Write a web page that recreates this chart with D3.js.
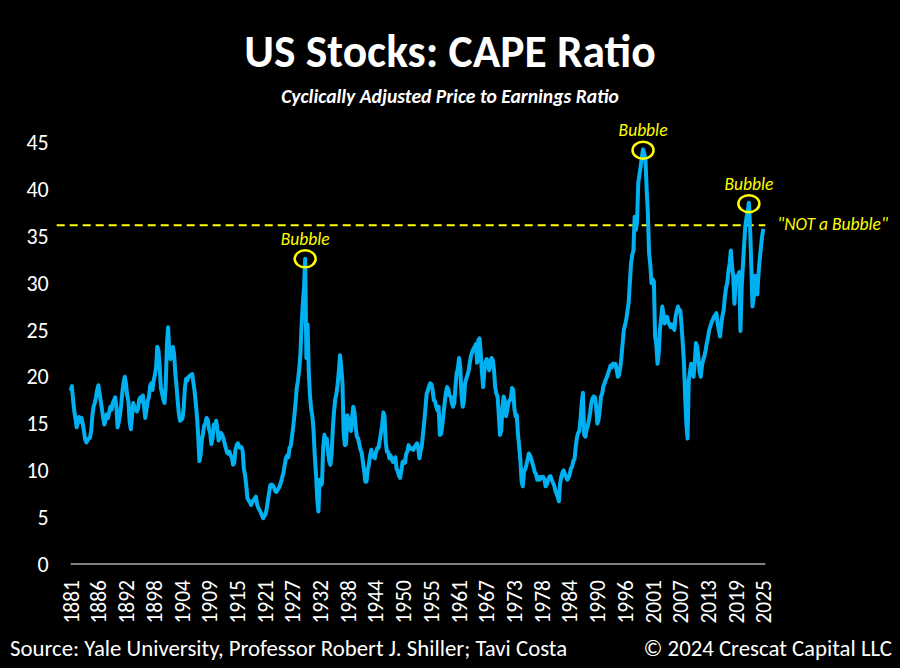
<!DOCTYPE html>
<html><head><meta charset="utf-8">
<script src="https://cdn.jsdelivr.net/npm/d3@7"></script>
<style>body{margin:0;background:#000}svg{display:block}</style>
</head><body><svg id="c" width="900" height="668"></svg>
<script>
// ---------- DATA ----------
const startYear = 1881;
const stepYears = 0.25; // quarterly readings
const capeValues = [
18.5,19.0,17.5,16.3, 15.5,14.6,15.2,15.7, 15.2,15.6,15.0,14.2, 13.3,13.0,13.2,13.4, 13.5,14.2,15.8,16.8,
17.2,17.8,18.6,19.1, 18.2,17.4,16.5,15.6, 14.9,15.4,16.0,15.6, 16.2,16.8,16.5,17.2, 17.5,17.8,16.8,14.6,
15.2,16.0,17.0,18.4, 19.4,20.0,19.2,18.0, 17.4,15.2,14.4,15.8, 17.2,16.8,16.6,16.3, 16.6,17.6,17.8,17.4,
18.0,16.8,15.6,16.5, 17.4,17.8,19.0,19.3, 18.6,19.6,20.2,21.0, 23.2,22.8,21.0,18.8, 18.2,17.6,17.2,19.0,
23.4,25.3,22.5,21.9, 22.6,23.2,22.4,20.4, 19.0,17.4,16.0,15.3, 15.4,15.6,16.8,18.8, 19.8,19.6,20.0,20.1,
20.2,20.3,19.4,18.5, 17.2,15.8,13.8,11.0, 11.6,13.2,13.9,14.8, 15.0,15.6,15.4,14.4, 14.0,12.8,13.4,14.9,
14.6,15.3,14.4,13.2, 13.6,14.0,13.8,13.4, 12.9,12.4,11.9,11.8, 12.0,11.6,11.4,10.6, 10.8,12.2,12.7,12.9,
12.6,12.4,12.5,12.1, 10.2,9.5,8.4,7.0, 6.8,6.6,6.3,6.6, 6.8,7.0,7.2,6.4, 6.0,5.8,5.5,5.2,
4.9,5.1,5.3,5.9, 6.8,7.6,8.4,8.5, 8.4,8.2,7.8,7.7, 7.9,8.1,8.4,8.8, 9.3,9.8,10.6,11.3,
11.6,11.4,12.4,12.6, 13.6,14.6,15.8,17.2, 18.8,19.6,20.8,22.3, 25.5,27.7,29.5,32.6, 22.0,25.6,20.5,18.0,
16.5,15.8,14.2,11.5, 9.6,7.0,5.6,9.0, 8.4,8.6,12.5,13.8, 13.2,13.4,12.0,11.0, 10.6,11.8,14.5,16.3,
17.6,18.2,19.2,20.6, 22.3,21.0,19.4,14.0, 12.7,12.8,15.9,15.5, 15.2,14.2,15.6,16.8, 16.2,14.6,13.6,13.4,
12.8,12.2,11.9,10.9, 10.0,8.8,8.8,10.0, 10.6,11.6,12.2,11.5, 11.4,11.3,12.0,12.4, 12.4,13.2,14.0,14.8,
16.2,15.8,13.0,12.0, 12.0,11.3,11.6,11.2, 10.9,11.2,11.4,10.2, 9.9,9.4,9.2,10.0, 10.9,11.0,10.8,11.8,
12.0,12.7,12.3,12.4, 12.3,12.2,12.5,12.7, 12.9,12.4,11.3,12.1, 12.6,13.9,15.2,16.6, 18.2,18.5,19.0,19.3,
19.2,18.6,17.5,17.4, 16.8,16.4,16.8,13.8, 13.9,14.8,16.0,17.2, 18.3,18.9,18.7,18.0, 17.9,17.2,16.8,17.2,
19.0,20.4,20.9,22.0, 21.0,18.0,16.8,17.4, 19.3,19.8,20.2,20.7, 21.6,22.3,22.7,23.0, 23.2,23.5,21.5,23.9,
24.1,22.5,20.5,18.9, 20.6,21.6,21.9,21.5, 20.7,21.3,22.0,21.8, 20.8,18.9,18.2,17.9, 16.0,13.8,14.2,16.5,
17.9,17.5,15.8,16.4, 17.2,17.5,17.6,18.8, 18.6,16.6,15.8,15.9, 13.8,12.5,11.0,8.8, 8.3,10.0,10.1,10.6,
11.2,11.8,11.6,11.2, 10.8,10.3,9.8,9.6, 9.0,9.3,9.0,9.3, 9.2,9.3,9.0,8.3, 8.5,9.0,9.3,9.4,
9.0,8.7,8.4,7.9, 7.5,7.2,6.7,8.6, 9.3,9.8,10.0,9.6, 9.3,9.0,9.2,9.6, 10.2,10.4,11.0,11.2,
12.5,13.5,14.0,14.2, 15.5,17.2,18.3,13.8, 13.6,14.4,14.7,15.4, 16.2,17.2,17.7,17.9, 17.8,16.8,15.0,15.4,
16.5,17.9,18.2,19.0, 19.3,19.7,20.0,20.4, 20.8,21.2,21.0,21.4, 21.4,21.4,20.8,20.0, 20.2,21.0,22.1,23.6,
25.0,25.5,26.1,27.0, 27.9,30.0,32.1,33.0, 33.5,37.1,35.7,36.5, 40.7,41.6,42.5,43.5, 44.3,43.8,43.2,40.0,
37.5,33.2,32.0,30.0, 30.4,30.2,24.3,23.5, 21.4,22.5,25.0,26.2, 27.5,26.6,25.7,26.0, 26.4,25.8,25.6,25.3,
25.6,25.4,25.0,26.4, 27.0,27.5,27.1,27.1, 25.5,23.6,21.5,17.9, 15.0,13.4,19.6,20.5, 21.4,21.0,20.0,21.5,
23.6,23.2,22.1,20.5, 20.0,21.2,21.8,22.2, 22.8,23.6,24.2,25.0, 25.4,25.8,26.1,26.4, 26.6,26.8,25.7,25.0,
24.3,25.6,26.5,27.1, 28.5,29.5,30.0,31.3, 32.1,33.5,31.8,30.7, 27.8,30.3,30.8,30.6, 31.2,24.9,29.5,31.8,
34.0,36.0,37.0,37.6, 38.6,36.0,32.0,27.5, 28.5,30.8,29.5,28.8, 31.0,32.5,33.8,35.0, 35.8
];
const xTickLabels = ["1881","1886","1892","1898","1904","1909","1915","1921","1927","1932","1938","1944","1950",
  "1955","1961","1967","1973","1978","1984","1990","1996","2001","2007","2013","2019","2025"];
const yTickValues = [0,5,10,15,20,25,30,35,40,45];
const notBubbleLevel = 36.2;
const bubbleYears = [1929.75, 2000.0, 2022.0];
const bubbleValues = [32.6, 44.2, 38.5];
const titleText = "US Stocks: CAPE Ratio";
const subtitleText = "Cyclically Adjusted Price to Earnings Ratio";
const sourceText = "Source: Yale University, Professor Robert J. Shiller; Tavi Costa";
const copyrightText = "\u00A9 2024 Crescat Capital LLC";

// ---------- CHART ----------
const font = "Calibri, Carlito, Lato, 'Open Sans', sans-serif";
const blue = "#00b0f0", yellow = "#ffff00";
const svg = d3.select("#c");
svg.append("rect").attr("width",900).attr("height",668).attr("fill","#000");

const endYear = startYear + (xTickLabels.length - 1) * 5.76;
const x = d3.scaleLinear().domain([startYear, endYear]).range([70.7, 763.3]);
const y = d3.scaleLinear().domain([0, 45]).range([564, 142.8]);

const data = capeValues.map((v, i) => ({t: startYear + i * stepYears, v}));

// title
svg.append("text").attr("x",450).attr("y",67).attr("text-anchor","middle")
  .attr("fill","#fff").style("font-family",font).style("font-weight","bold").style("font-size","45.5px")
  .text(titleText);
svg.append("text").attr("x",450).attr("y",103).attr("text-anchor","middle")
  .attr("fill","#fff").style("font-family",font).style("font-weight","bold").style("font-style","italic")
  .style("font-size","19.6px").text(subtitleText);

// y axis
const yAxis = svg.append("g").attr("transform",`translate(${x(startYear)},0)`)
  .call(d3.axisLeft(y).tickValues(yTickValues).tickSize(0).tickPadding(22));
yAxis.select(".domain").remove();
yAxis.selectAll("text").attr("fill","#fff").style("font-family",font).style("font-size","22px");

// x axis
const tickPos = xTickLabels.map((d,i) => startYear + i * (endYear - startYear) / (xTickLabels.length - 1));
const xAxis = svg.append("g").attr("transform",`translate(0,${y(0)})`)
  .call(d3.axisBottom(x).tickValues(tickPos).tickFormat((d,i)=>xTickLabels[i]).tickSize(0));
xAxis.select(".domain").attr("stroke","#7f7f7f").attr("stroke-width",2.2)
  .attr("d",`M${x(startYear)},0H${x(endYear)+2}`);
xAxis.selectAll("text").attr("fill","#fff").style("font-family",font).style("font-size","21.5px")
  .attr("transform","rotate(-90)").attr("x",-16).attr("y",0).attr("dy","0.35em").style("text-anchor","end");

// not-a-bubble line
svg.append("line").attr("x1",x(startYear)-14).attr("x2",x(endYear)+2)
  .attr("y1",y(notBubbleLevel)).attr("y2",y(notBubbleLevel))
  .attr("stroke",yellow).attr("stroke-width",2).attr("stroke-dasharray","8,5");
svg.append("text").attr("x",x(endYear)+14).attr("y",y(notBubbleLevel)).attr("dy","0.3em")
  .attr("fill",yellow).style("font-family",font).style("font-style","italic").style("font-size","17.5px")
  .text("\"NOT a Bubble\"");

// CAPE line
svg.append("path").datum(data)
  .attr("d", d3.line().x(d=>x(d.t)).y(d=>y(d.v)))
  .attr("fill","none").attr("stroke",blue).attr("stroke-width",4).attr("stroke-linejoin","round");

// bubble annotations
bubbleYears.forEach((t,i) => {
  const cx = x(t), cy = y(bubbleValues[i]);
  svg.append("ellipse").attr("cx",cx).attr("cy",cy).attr("rx",10.5).attr("ry",8.5)
    .attr("fill","none").attr("stroke",yellow).attr("stroke-width",2.5);
  svg.append("text").attr("x",cx).attr("y",cy-14).attr("text-anchor","middle")
    .attr("fill",yellow).style("font-family",font).style("font-style","italic").style("font-size","17.5px")
    .text("Bubble");
});

// footer
svg.append("text").attr("x",10).attr("y",656).attr("fill","#fff").style("font-family",font)
  .style("font-size","22.8px").text(sourceText);
svg.append("text").attr("x",892).attr("y",656).attr("text-anchor","end").attr("fill","#fff")
  .style("font-family",font).style("font-size","22.8px").text(copyrightText);
</script></body></html>
